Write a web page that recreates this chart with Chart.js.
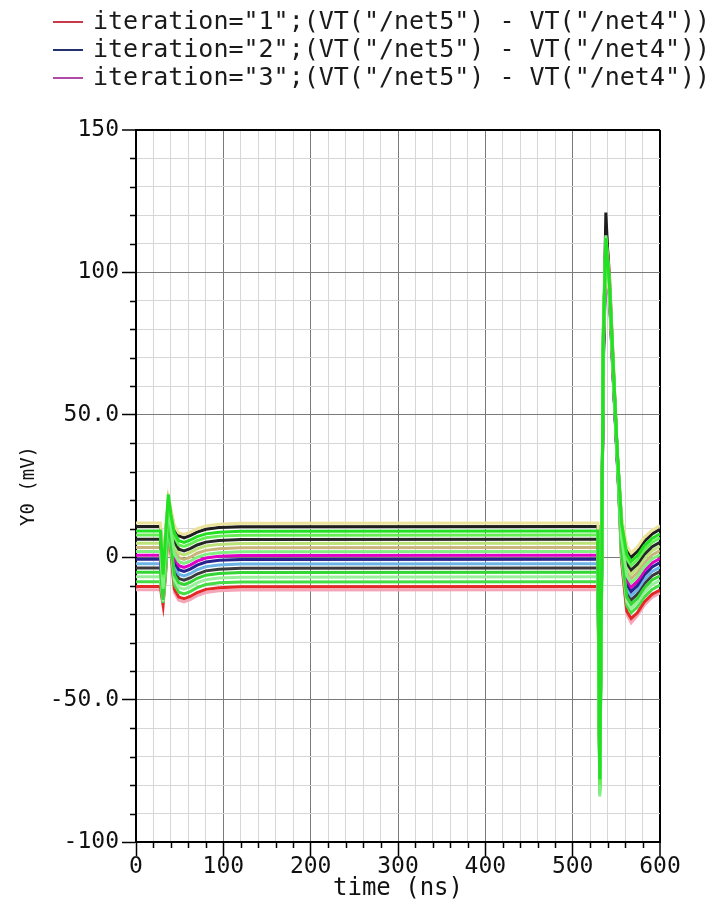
<!DOCTYPE html>
<html>
<head>
<meta charset="utf-8">
<script src="https://cdn.jsdelivr.net/npm/chart.js@4.4.1/dist/chart.umd.min.js"></script>
<style>
  html, body { margin: 0; padding: 0; background: #ffffff; }
  #graph { display: block; }
</style>
</head>
<body>
<canvas id="graph" width="719" height="901"></canvas>
<script>
// time axis shared by every trace (ns)
const timeNs = [0, 28, 31, 34, 37, 40, 44, 49, 55, 62, 70, 80, 95, 120, 525, 529, 531, 533, 535, 538, 542, 546, 551, 556, 562, 567, 574, 582, 591, 600];

// VT("/net5") - VT("/net4") in mV, one array per run, top of bundle first
const vt01 = [12, 12, -4, 10, 21, 17, 11, 8.5, 8, 8.8, 10, 11, 11.6, 11.9, 12, 12, -70, -5, 72, 104, 92, 66, 36, 14, 4, 1.5, 3.5, 7, 9.5, 11];
const vt02 = [10.8, 10.8, -5, 9, 20, 16, 10, 7.5, 6.8, 7.6, 8.8, 9.8, 10.4, 10.7, 10.8, 10.8, -74, -8, 70, 121, 95, 68, 37, 13, 2.5, 0, 2, 5.5, 8.2, 9.8];
const vt03 = [9.2, 9.2, -6, 8, 22, 15, 8.5, 5.8, 5.2, 6, 7.2, 8.2, 8.8, 9.1, 9.2, 9.2, -78, -12, 75, 112, 97, 70, 38, 12, 1, -1.5, 0.5, 4, 6.6, 8.2];
const vt04 = [7.8, 7.8, -7, 7, 19, 14, 7, 4.3, 3.8, 4.6, 5.8, 6.8, 7.4, 7.7, 7.8, 7.8, -80, -15, 78, 110, 96, 69, 36, 11, -0.5, -3, -1, 2.5, 5.2, 6.8];
const vt05 = [6.3, 6.3, -8, 6, 18, 13, 5.5, 2.8, 2.2, 3, 4.3, 5.3, 5.9, 6.2, 6.3, 6.3, -76, -10, 68, 106, 93, 66, 35, 10, -2, -4.5, -2.5, 1, 3.7, 5.2];
const vt06 = [4.9, 4.9, -9, 5, 18, 12, 4, 1.4, 0.8, 1.6, 2.9, 3.9, 4.5, 4.8, 4.9, 4.9, -79, -14, 74, 109, 95, 68, 36, 9, -3.5, -6, -4, -0.5, 2.3, 3.8];
const vt07 = [3.4, 3.4, -10, 4, 17, 11, 2.5, -0.2, -0.8, 0, 1.4, 2.4, 3, 3.3, 3.4, 3.4, -82, -16, 76, 111, 97, 70, 37, 8, -5, -7.5, -5.5, -2, 0.8, 2.3];
const vt08 = [2, 2, -11, 3, 19, 10, 1, -1.6, -2.2, -1.4, 0, 1, 1.6, 1.9, 2, 2, -84, -18, 80, 113, 98, 71, 37, 7, -6.5, -9, -7, -3.4, -0.6, 0.9];
const vt09 = [0.7, 0.7, -12, 2, 16, 9, -0.3, -3, -3.6, -2.8, -1.4, -0.3, 0.3, 0.6, 0.7, 0.7, -77, -11, 70, 107, 94, 67, 35, 6, -8, -10.5, -8.5, -4.8, -2, -0.5];
const vt10 = [-0.7, -0.7, -13, 1, 15, 8, -1.7, -4.4, -5, -4.2, -2.8, -1.7, -1.1, -0.8, -0.7, -0.7, -75, -9, 66, 104, 92, 65, 34, 5, -9.5, -12, -10, -6.2, -3.4, -1.9];
const vt11 = [-2.3, -2.3, -13.5, 0, 14, 7, -3.3, -6, -6.6, -5.8, -4.4, -3.3, -2.7, -2.4, -2.3, -2.3, -81, -15, 74, 108, 95, 68, 35, 4, -11, -13.5, -11.5, -7.8, -5, -3.5];
const vt12 = [-3.8, -3.8, -14, -1, 14, 6, -4.8, -7.5, -8.1, -7.3, -5.9, -4.8, -4.2, -3.9, -3.8, -3.8, -79, -12, 72, 106, 93, 66, 34, 3, -12.5, -15, -13, -9.3, -6.5, -5];
const vt13 = [-5.3, -5.3, -15, -2, 13, 5, -6.3, -9, -9.6, -8.8, -7.4, -6.3, -5.7, -5.4, -5.3, -5.3, -83, -17, 78, 112, 97, 70, 36, 2, -14, -16.5, -14.5, -10.8, -8, -6.5];
const vt14 = [-6.9, -6.9, -15.5, -3, 12, 4, -7.9, -10.6, -11.2, -10.4, -9, -7.9, -7.3, -7, -6.9, -6.9, -80, -13, 73, 109, 95, 68, 35, 1, -15.5, -18, -16, -12.4, -9.6, -8.1];
const vt15 = [-8.6, -8.6, -16, -4, 12, 3, -9.6, -12.3, -12.9, -12.1, -10.7, -9.6, -9, -8.7, -8.6, -8.6, -82, -16, 77, 111, 96, 69, 36, 0, -17, -19.5, -17.5, -14, -11.3, -9.8];
const vt16 = [-10.3, -10.3, -16.5, -5, 11, 2, -11.3, -14, -14.6, -13.8, -12.4, -11.3, -10.7, -10.4, -10.3, -10.3, -78, -10, 70, 116, 100, 72, 37, -1, -19, -21.5, -19.5, -15.7, -13, -11.5];
const vt17 = [-11.4, -11.4, -17, -6, 10, 1, -12.4, -15.1, -15.7, -14.9, -13.5, -12.4, -11.8, -11.5, -11.4, -11.4, -76, -9, 68, 110, 96, 69, 35, -2, -20, -23, -20.5, -16.8, -14, -12.6];

const traces = [vt01, vt02, vt03, vt04, vt05, vt06, vt07, vt08, vt09, vt10, vt11, vt12, vt13, vt14, vt15, vt16, vt17];
const traceColors = ['#ece39a', '#1e1e1e', '#22e022', '#66ee55', '#262626', '#bde27a', '#c9b57c', '#80f080',
                     '#e000c8', '#26248c', '#6cb4e6', '#3a3a3a', '#33d633', '#9af09a', '#44dd44', '#e42828', '#f4a6b8'];
// greens are drawn on top of the others
const traceOrder = [1, 1, 0, 0, 1, 1, 1, 0, 1, 1, 1, 1, 0, 0, 0, 1, 1];

const legendLabels = [
    'iteration="1";(VT("/net5") - VT("/net4"))',
    'iteration="2";(VT("/net5") - VT("/net4"))',
    'iteration="3";(VT("/net5") - VT("/net4"))'
];
const legendColors = ['#c83a4a', '#23306e', '#b04aa8'];

const xTickValues = [0, 100, 200, 300, 400, 500, 600];
const xTickText = ['0', '100', '200', '300', '400', '500', '600'];
const yTickValues = [150, 100, 50, 0, -50, -100];
const yTickText = ['150', '100', '50.0', '0', '-50.0', '-100'];

const monoFont = '"DejaVu Sans Mono", "Liberation Mono", monospace';

let datasets = [];
for (let i = 0; i < traces.length; ++i) {
    let pts = [];
    for (let j = 0; j < timeNs.length; ++j) {
        pts.push({ x: timeNs[j], y: traces[i][j] });
    }
    datasets.push({
        label: '',
        data: pts,
        borderColor: traceColors[i],
        borderWidth: 3,
        pointRadius: 0,
        tension: 0,
        fill: false,
        order: traceOrder[i]
    });
}

function majorX(v) { return xTickValues.indexOf(v) >= 0; }
function majorY(v) { return yTickValues.indexOf(v) >= 0; }

// legend lines + text above the plot
const topLegend = {
    id: 'topLegend',
    afterDraw(chart) {
        const ctx = chart.ctx;
        ctx.save();
        ctx.font = '25px ' + monoFont;
        ctx.textBaseline = 'middle';
        ctx.textAlign = 'left';
        for (let i = 0; i < legendLabels.length; ++i) {
            let y = 22 + i * 28;
            ctx.strokeStyle = legendColors[i];
            ctx.lineWidth = 2;
            ctx.beginPath();
            ctx.moveTo(53, y);
            ctx.lineTo(83, y);
            ctx.stroke();
            ctx.fillStyle = '#1a1a1a';
            ctx.fillText(legendLabels[i], 93, y);
        }
        ctx.restore();
    }
};

// short ticks for the minor steps
const minorTicks = {
    id: 'minorTicks',
    afterDraw(chart) {
        const ctx = chart.ctx;
        const xs = chart.scales.x;
        const ys = chart.scales.y;
        const area = chart.chartArea;
        ctx.save();
        ctx.strokeStyle = '#000';
        ctx.lineWidth = 1.5;
        ctx.beginPath();
        xs.ticks.forEach(t => {
            if (!majorX(t.value)) {
                let px = Math.round(xs.getPixelForValue(t.value)) + 0.5;
                ctx.moveTo(px, area.bottom);
                ctx.lineTo(px, area.bottom + 6);
            }
        });
        ys.ticks.forEach(t => {
            if (!majorY(t.value)) {
                let py = Math.round(ys.getPixelForValue(t.value)) + 0.5;
                ctx.moveTo(area.left - 6, py);
                ctx.lineTo(area.left, py);
            }
        });
        ctx.stroke();
        ctx.restore();
    }
};

const config = {
    type: 'line',
    data: { datasets: datasets },
    options: {
        responsive: false,
        animation: false,
        layout: { padding: { top: 130, left: 0, right: 59, bottom: 0 } },
        plugins: {
            legend: { display: false },
            tooltip: { enabled: false }
        },
        scales: {
            x: {
                type: 'linear',
                min: 0,
                max: 600,
                afterFit: (s) => { s.height = 59; },
                ticks: {
                    stepSize: 20,
                    autoSkip: false,
                    maxRotation: 0,
                    padding: 0,
                    color: '#111',
                    font: { family: monoFont, size: 23, lineHeight: 1 },
                    callback: (v) => { let i = xTickValues.indexOf(v); return i >= 0 ? xTickText[i] : ''; }
                },
                grid: {
                    color: (c) => c.tick && majorX(c.tick.value) ? (c.tick.value === 600 ? '#000' : '#7a7a7a') : '#d6d6d6',
                    lineWidth: (c) => c.tick && c.tick.value === 600 ? 2 : 1,
                    tickLength: 14,
                    tickColor: (c) => c.tick && majorX(c.tick.value) ? '#000' : 'rgba(0,0,0,0)',
                    tickWidth: 1.5
                },
                border: { color: '#000', width: 2 },
                title: {
                    display: true,
                    text: 'time (ns)',
                    color: '#111',
                    font: { family: monoFont, size: 24, lineHeight: 1 },
                    padding: { top: 0, bottom: 0 }
                }
            },
            y: {
                type: 'linear',
                min: -100,
                max: 150,
                afterFit: (s) => { s.width = 136; },
                ticks: {
                    stepSize: 10,
                    autoSkip: false,
                    padding: 3,
                    color: '#111',
                    font: { family: monoFont, size: 23, lineHeight: 1 },
                    callback: (v) => { let i = yTickValues.indexOf(v); return i >= 0 ? yTickText[i] : ''; }
                },
                grid: {
                    color: (c) => c.tick && majorY(c.tick.value) ? (c.tick.value === 150 ? '#000' : '#7a7a7a') : '#d6d6d6',
                    lineWidth: (c) => c.tick && c.tick.value === 150 ? 2 : 1,
                    tickLength: 14,
                    tickColor: (c) => c.tick && majorY(c.tick.value) ? '#000' : 'rgba(0,0,0,0)',
                    tickWidth: 1.5
                },
                border: { color: '#000', width: 2 },
                title: {
                    display: true,
                    text: 'Y0 (mV)',
                    color: '#111',
                    font: { family: monoFont, size: 19, lineHeight: 1 },
                    padding: { top: 20, bottom: 0 }
                }
            }
        }
    },
    plugins: [topLegend, minorTicks]
};

const ctx = document.getElementById('graph');
const myChart = new Chart(ctx, config);
</script>
</body>
</html>
